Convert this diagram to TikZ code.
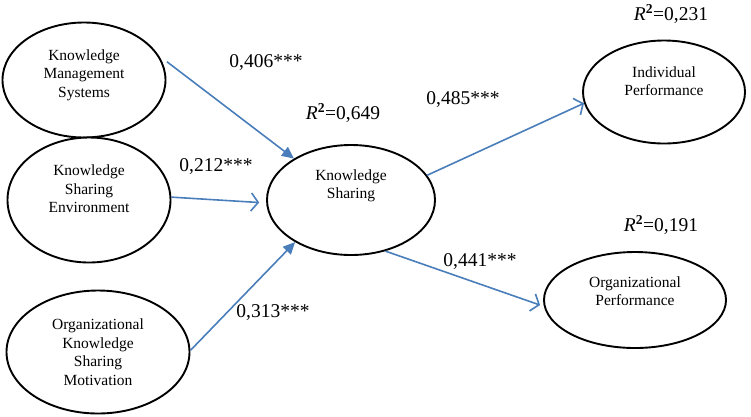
\documentclass[tikz,border=0pt]{standalone}
\usepackage{fontspec}
\setmainfont{Liberation Serif}
\usetikzlibrary{shapes.geometric, arrows.meta, positioning, calc}
\definecolor{path_blue}{HTML}{4A7EBB}

\begin{document}
\begin{tikzpicture}[
                x=1pt, y=-1pt,
                latent/.style={ellipse, draw=black, line width=1.9pt, fill=white, inner sep=0pt},
                txt/.style={align=center, font=\fontsize{15.5}{18.5}\selectfont},
                coef/.style={font=\fontsize{19.5}{22}\selectfont},
                arrow/.style={draw=path_blue, line width=1.6pt, -{Triangle[length=12pt,width=11pt]}},
                openarrow/.style={draw=path_blue, line width=1.6pt, -{Straight Barb[length=7pt,width=18pt]}}
            ]
                \useasboundingbox (0,0) rectangle (751,416);

                % Nodes
                \node (kms) [latent, minimum width=163pt, minimum height=115pt] at (84,80) {};
                \node (kse) [latent, minimum width=163pt, minimum height=125pt] at (89,200) {};
                \node (oksm) [latent, minimum width=183pt, minimum height=123pt] at (98,352) {};
                \node (ks) [latent, minimum width=168pt, minimum height=110pt] at (351,200) {};
                \node (ip) [latent, minimum width=162pt, minimum height=103pt] at (664,92) {};
                \node (op) [latent, minimum width=182pt, minimum height=96pt] at (635,300) {};

                % Texts
                \node (kms_t) [txt] at (84,75) {Knowledge\\Management\\Systems};
                \node (kse_t) [txt] at (89,189) {Knowledge\\Sharing\\Environment};
                \node (oksm_t) [txt] at (98,352) {Organizational\\Knowledge\\Sharing\\Motivation};
                \node (ks_t) [txt] at (351,186) {Knowledge\\Sharing};
                \node (ip_t) [txt] at (664,81) {Individual\\Performance};
                \node (op_t) [txt] at (635,291) {Organizational\\Performance};

                % Arrows
                \draw [arrow, shorten <=10pt] (kms.18) -- (ks.144);
                \draw [openarrow, shorten >=7pt] (kse.2) -- (ks.182);
                \draw [arrow] (oksm.1) -- (ks.217);
                \draw [openarrow] (ks.18) -- (ip.188);
                \draw [openarrow, shorten >=4pt] (ks.304) -- (op.184);

                % Coefficients
                \node (c_kms) [coef] at (266,63) {0,406***};
                \node (c_kse) [coef] at (216,167) {0,212***};
                \node (c_oksm) [coef] at (273,313) {0,313***};
                \node (c_ip) [coef] at (463,100) {0,485***};
                \node (c_op) [coef] at (480,262) {0,441***};
                \node (r_ks) [coef] at (343,113) {\textit{R}\textsuperscript{\textbf{2}}=0,649};
                \node (r_ip) [coef] at (671,14) {\textit{R}\textsuperscript{\textbf{2}}=0,231};
                \node (r_op) [coef] at (661,225) {\textit{R}\textsuperscript{\textbf{2}}=0,191};
            \end{tikzpicture}
\end{document}
